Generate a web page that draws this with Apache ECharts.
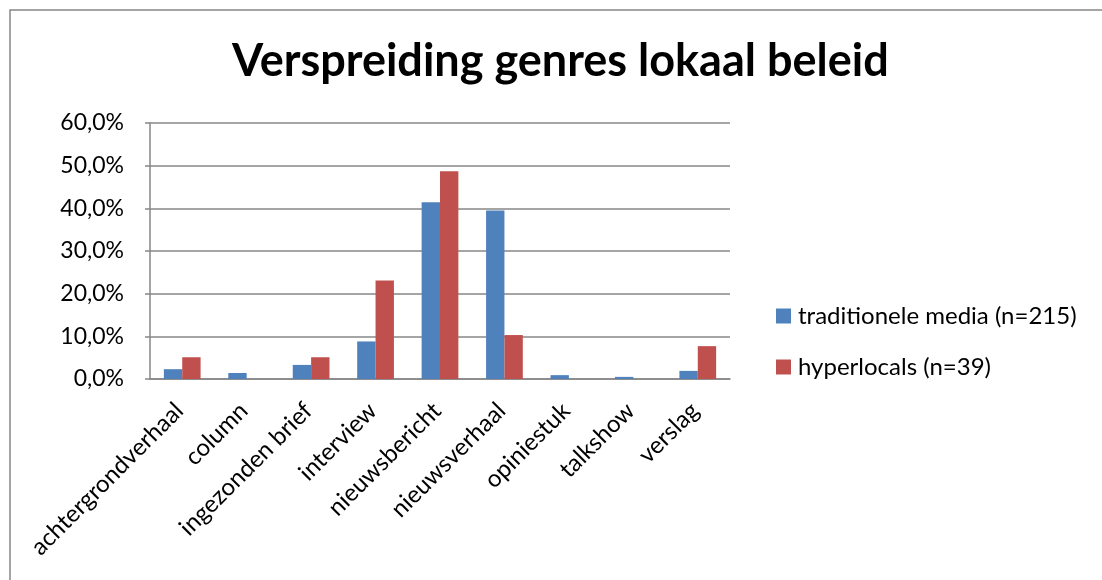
<!DOCTYPE html>
<html>
<head>
<meta charset="utf-8">
<script src="https://cdn.jsdelivr.net/npm/echarts@6/dist/echarts.min.js"></script>
<style>
  html, body { margin: 0; padding: 0; background: #fff; }
  #chart { width: 1102px; height: 580px; }
</style>
</head>
<body>
<div id="chart"></div>
<script>
// genres (categorieen)
var genres = ["achtergrondverhaal", "column", "ingezonden brief", "interview", "nieuwsbericht", "nieuwsverhaal", "opiniestuk", "talkshow", "verslag"]
// percentages per bron
var traditioneel = [2.3, 1.4, 3.3, 8.8, 41.4, 39.5, 0.9, 0.5, 1.9]
var hyperlocals = [5.1, 0, 5.1, 23.1, 48.7, 10.3, 0, 0, 7.7]
var seriesNames = ["traditionele media (n=215)", "hyperlocals (n=39)"]
var yTicks = { min: 0, max: 60, interval: 10 }

var font = "Lato, 'Open Sans', sans-serif"
var gridColor = "#878787"

var chartDom = echarts.init(document.getElementById("chart"))
var option = {
  backgroundColor: "#fff",
  animation: false,
  color: ["#4F81BD", "#C0504D"],
  title: {
    text: "Verspreiding genres lokaal beleid",
    left: 227,
    top: 34,
    textStyle: {
      fontFamily: font,
      fontSize: 45,
      fontWeight: "bold",
      color: "#000"
    }
  },
  // rand om de grafiek (alleen links en boven zichtbaar)
  graphic: [{
    type: "rect",
    shape: { x: 10, y: 10, width: 1200, height: 700 },
    style: { fill: "none", stroke: gridColor, lineWidth: 1.5 },
    silent: true
  }],
  legend: {
    orient: "vertical",
    left: 771,
    top: 299,
    itemWidth: 15,
    itemHeight: 15,
    itemGap: 27,
    icon: "rect",
    textStyle: { fontFamily: font, fontSize: 24, color: "#000", padding: [0, 0, 0, 2] },
    data: seriesNames
  },
  grid: {
    left: 150,
    top: 123,
    right: 372,
    bottom: 201,
    containLabel: false
  },
  xAxis: {
    type: "category",
    data: genres,
    axisLine: { lineStyle: { color: gridColor, width: 1.5 } },
    axisTick: { show: false },
    axisLabel: {
      rotate: 45,
      interval: 0,
      margin: 25,
      padding: [0, 4, 0, 0],
      fontFamily: font,
      fontSize: 24,
      color: "#000"
    }
  },
  yAxis: {
    type: "value",
    min: yTicks.min,
    max: yTicks.max,
    interval: yTicks.interval,
    axisLine: { show: true, lineStyle: { color: gridColor, width: 1.5 } },
    axisTick: { show: true, inside: false, length: 5, lineStyle: { color: gridColor, width: 1.5 } },
    splitLine: { lineStyle: { color: gridColor, width: 1.5 } },
    axisLabel: {
      margin: 26,
      fontFamily: font,
      fontSize: 23,
      color: "#000",
      formatter: function (v) { return v.toFixed(1).replace(".", ",") + "%" }
    }
  },
  series: [
    {
      name: seriesNames[0],
      type: "bar",
      data: traditioneel,
      barGap: "0%",
      barCategoryGap: "43%"
    },
    {
      name: seriesNames[1],
      type: "bar",
      data: hyperlocals,
      barGap: "0%",
      barCategoryGap: "43%"
    }
  ]
}
chartDom.setOption(option)
</script>
</body>
</html>
